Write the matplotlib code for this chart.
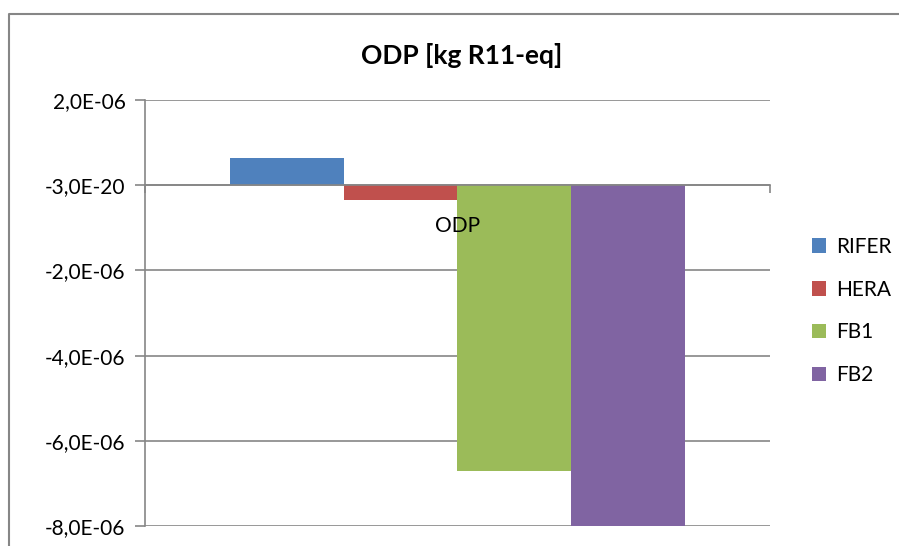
import matplotlib
matplotlib.use("Agg")
from matplotlib import pyplot as plt
from matplotlib.lines import Line2D

plt.rcParams['font.family'] = ['Lato', 'DejaVu Sans']

# data
series = ["RIFER", "HERA", "FB1", "FB2"]
values = [0.65e-06, -0.34e-06, -6.72e-06, -8.2e-06]
colors = ["#4f81bd", "#c0504d", "#9bbb59", "#8064a2"]
category = "ODP"
yticks = [2e-06, 0.0, -2e-06, -4e-06, -6e-06, -8e-06]
ytick_labels = ["2,0E-06", "-3,0E-20", "-2,0E-06", "-4,0E-06", "-6,0E-06", "-8,0E-06"]

W, H = 899, 546
fig = plt.figure(figsize=(W / 100, H / 100), dpi=100)
ax = fig.add_axes([145 / W, 20 / H, (770 - 145) / W, (526 - 100) / H])

grey = "#868686"
bar_w = 0.182
for i, (name, v, c) in enumerate(zip(series, values, colors)):
    ax.bar((i - 1.5) * bar_w, v, width=bar_w, color=c, label=name, zorder=2)

ax.set_xlim(-0.5, 0.5)
ax.set_ylim(-8e-06, 2e-06)
ax.set_yticks(yticks)
ax.set_yticklabels(ytick_labels, fontsize=15)
ax.yaxis.grid(True, color=grey, linewidth=1.2, zorder=0)
ax.set_axisbelow(True)

# category axis sits on zero
ax.spines['bottom'].set_position(('data', 0))
ax.spines['bottom'].set_color(grey)
ax.spines['bottom'].set_linewidth(1.2)
ax.spines['bottom'].set_zorder(3)
ax.spines['left'].set_color(grey)
ax.spines['left'].set_linewidth(1.2)
ax.spines['top'].set_visible(False)
ax.spines['right'].set_visible(False)
ax.set_xticks([-0.5, 0.5])
ax.set_xticklabels(["", ""])
ax.tick_params(axis='x', direction='out', length=6, color=grey, width=1.2)
ax.tick_params(axis='y', direction='out', length=7, color=grey, width=1.2, pad=7)
ax.text(0, -0.95e-06, category, ha='center', va='center', fontsize=15, zorder=5)

fig.text(462 / W, 1 - 55 / H, "ODP [kg R11-eq]", ha='center', va='center',
         fontsize=19, fontweight='bold')

fig.legend(loc='center left', bbox_to_anchor=(793 / W, 1 - 311 / H), frameon=False,
           fontsize=15, handlelength=0.7, handleheight=0.7, handletextpad=0.45,
           labelspacing=1.1)

# outer chart frame (left and top edges only visible)
x0, y0 = 8.5 / W, 1 - 13.5 / H
fig.lines.append(Line2D([x0, x0, 1.0], [0.0, y0, y0], transform=fig.transFigure,
                        color=grey, linewidth=1.5))

fig.savefig("out.png", dpi=100)
